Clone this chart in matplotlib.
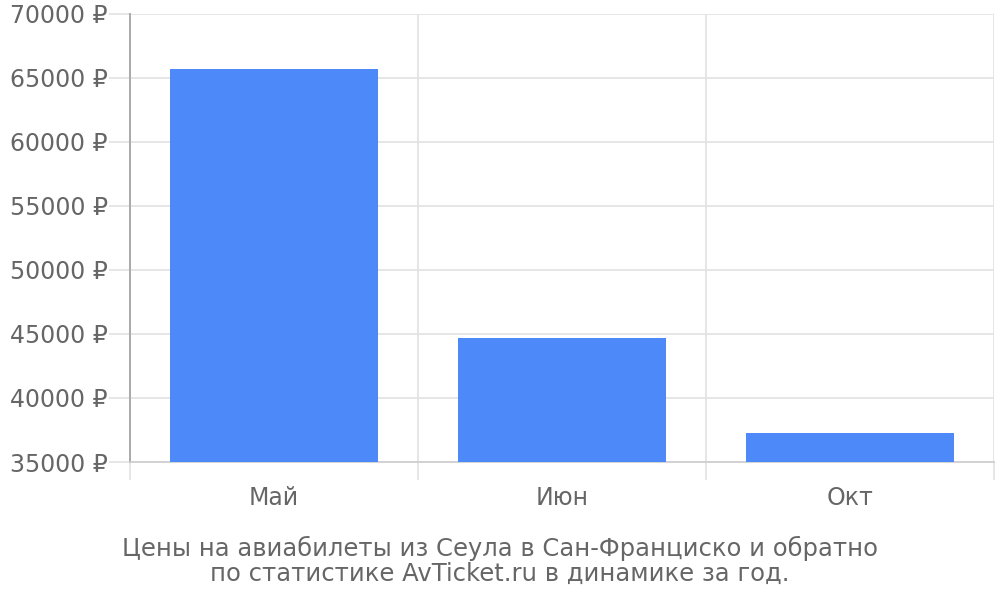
import matplotlib
matplotlib.use("Agg")
import matplotlib.pyplot as plt
import numpy as np

categories = ["Май", "Июн", "Окт"]
prices = [65700, 44700, 37300]
y_ticks = [35000, 40000, 45000, 50000, 55000, 60000, 65000, 70000]
caption = "Цены на авиабилеты из Сеула в Сан-Франциско и обратно\nпо статистике AvTicket.ru в динамике за год."

plt.rcParams['font.family'] = ['DejaVu Sans']
fig = plt.figure(figsize=(10, 6), dpi=100)
ax = fig.add_axes([0.13, 0.23, 0.864, 0.7467])

x = np.arange(len(categories))
ax.bar(x, [p - 35000 for p in prices], bottom=35000, width=0.72, color="#4d89f9", zorder=3)

ax.set_xlim(-0.5, len(categories) - 0.5)
ax.set_ylim(35000, 70000)
ax.set_yticks(y_ticks)
ax.set_yticklabels([f"{v} ₽" for v in y_ticks])
ax.set_xticks(x)
ax.set_xticklabels(categories)
ax.set_xticks(np.arange(len(categories) + 1) - 0.5, minor=True)

ax.grid(axis='y', color="#e2e2e2", linewidth=1.2, zorder=0)
ax.grid(axis='x', which='minor', color="#e2e2e2", linewidth=1.2, zorder=0)

ax.tick_params(axis='y', length=15, color="#e2e2e2", width=1.2, labelsize=17, labelcolor="#666666", pad=1)
ax.tick_params(axis='x', which='major', length=0, labelsize=17, labelcolor="#666666", pad=17)
ax.tick_params(axis='x', which='minor', length=13, color="#e2e2e2", width=1.2)

for s in ['top', 'right']:
    ax.spines[s].set_visible(False)
ax.spines['left'].set_color("#aaaaaa")
ax.spines['left'].set_linewidth(1.2)
ax.spines['left'].set_bounds(35000, 70000)
ax.spines['bottom'].set_color("#cccccc")
ax.spines['bottom'].set_linewidth(1.2)

ax.plot([-0.5, -0.5], [0, 1], transform=ax.get_xaxis_transform(), color="#aaaaaa", lw=1.2, clip_on=False)

fig.text(0.5, 0.065, caption, ha='center', va='center', fontsize=17.5, color="#666666", linespacing=1.07)

fig.savefig("out.png", dpi=100)
